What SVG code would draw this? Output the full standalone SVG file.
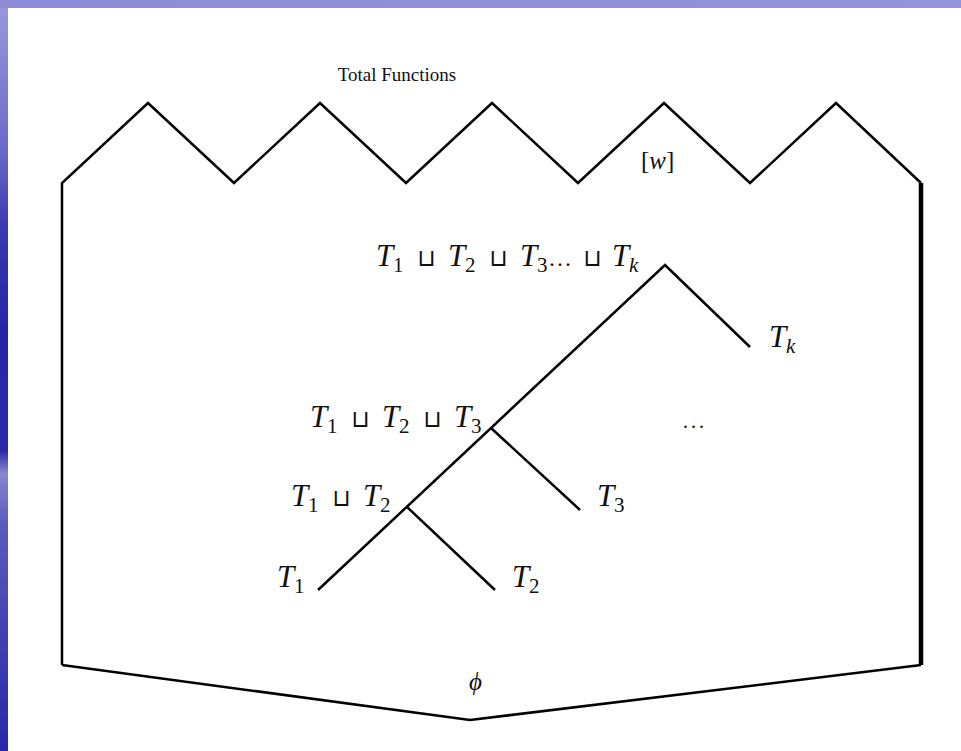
<svg xmlns="http://www.w3.org/2000/svg" width="961" height="751" viewBox="0 0 961 751">
<defs>
<linearGradient id="side" x1="0" y1="0" x2="0" y2="1">
<stop offset="0" stop-color="#9a9adc"/>
<stop offset="0.2" stop-color="#6a6ac8"/>
<stop offset="0.3" stop-color="#3a3ab0"/>
<stop offset="0.45" stop-color="#2424a6"/>
<stop offset="0.6" stop-color="#2a2aa8"/>
<stop offset="0.63" stop-color="#8686d0"/>
<stop offset="0.7" stop-color="#5a5abc"/>
<stop offset="1" stop-color="#2828a8"/>
</linearGradient>
<linearGradient id="top" x1="0" y1="0" x2="1" y2="0">
<stop offset="0" stop-color="#8c8cd6"/>
<stop offset="1" stop-color="#9494da"/>
</linearGradient>
</defs>
<style>
.ln{fill:none;stroke:#000;stroke-width:2.5;stroke-linejoin:miter;stroke-linecap:butt}
.t{font-family:"Liberation Serif","DejaVu Serif",serif;font-size:31px;font-style:italic;fill:#111}
.s{font-style:normal;font-size:21px}
.sk{font-style:italic;font-size:21px}
.op{font-family:"DejaVu Sans",sans-serif;font-style:normal;font-size:24px}
.title{font-family:"Liberation Serif","DejaVu Serif",serif;font-size:19px;fill:#111}
</style>
<rect x="0" y="0" width="961" height="751" fill="url(#side)"/>
<rect x="0" y="0" width="961" height="8" fill="url(#top)"/>
<rect x="8" y="8" width="953" height="743" fill="#ffffff"/>
<g id="frame">
<polyline class="ln" points="62,665 62,183 148,103 234,183 320,103 406,183 492,103 578,183 664,103 750,183 836,103 921,183"/>
<line x1="921" y1="183" x2="921" y2="665" stroke="#000" stroke-width="4.5"/>
<polyline class="ln" points="62,665 470,720 921,665"/>
</g>
<g id="connectors">
<polyline class="ln" points="318,590 665,265 750,347"/>
<line class="ln" x1="491" y1="428" x2="580" y2="510"/>
<line class="ln" x1="407" y1="507" x2="495" y2="590"/>
</g>
<g id="title"><text class="title" x="397" y="81" text-anchor="middle">Total Functions</text></g>
<g id="w"><text class="t" x="641" y="169" style="font-size:25px"><tspan style="font-style:normal">[</tspan>w<tspan style="font-style:normal">]</tspan></text></g>
<g id="root"><text class="t" y="266"><tspan x="376">T</tspan><tspan class="s" x="393" y="272">1</tspan><tspan class="op" x="417" y="266">⊔</tspan><tspan x="448">T</tspan><tspan class="s" x="465" y="272">2</tspan><tspan class="op" x="489" y="266">⊔</tspan><tspan x="520">T</tspan><tspan class="s" x="537" y="272">3</tspan><tspan style="font-style:normal;letter-spacing:2px;font-size:24px" x="549" y="266">...</tspan><tspan class="op" x="583">⊔</tspan><tspan x="612">T</tspan><tspan class="sk" x="629" y="272">k</tspan></text></g>
<g id="tk"><text class="t" y="347"><tspan x="769">T</tspan><tspan class="sk" x="786" y="353">k</tspan></text></g>
<g id="t123"><text class="t" y="427"><tspan x="310">T</tspan><tspan class="s" x="327" y="433">1</tspan><tspan class="op" x="351" y="427">⊔</tspan><tspan x="382">T</tspan><tspan class="s" x="399" y="433">2</tspan><tspan class="op" x="423" y="427">⊔</tspan><tspan x="454">T</tspan><tspan class="s" x="471" y="433">3</tspan></text></g>
<g id="dots"><text class="t" x="683" y="428" style="font-style:normal;font-size:20px;letter-spacing:3px">...</text></g>
<g id="t3"><text class="t" y="506"><tspan x="597">T</tspan><tspan class="s" x="614" y="512">3</tspan></text></g>
<g id="t12"><text class="t" y="506"><tspan x="291">T</tspan><tspan class="s" x="308" y="512">1</tspan><tspan class="op" x="332" y="506">⊔</tspan><tspan x="363">T</tspan><tspan class="s" x="380" y="512">2</tspan></text></g>
<g id="t1"><text class="t" y="587"><tspan x="277">T</tspan><tspan class="s" x="294" y="593">1</tspan></text></g>
<g id="t2"><text class="t" y="587"><tspan x="512">T</tspan><tspan class="s" x="529" y="593">2</tspan></text></g>
<g id="phi"><text class="t" x="469" y="690" style="font-size:25px">ϕ</text></g>
</svg>
